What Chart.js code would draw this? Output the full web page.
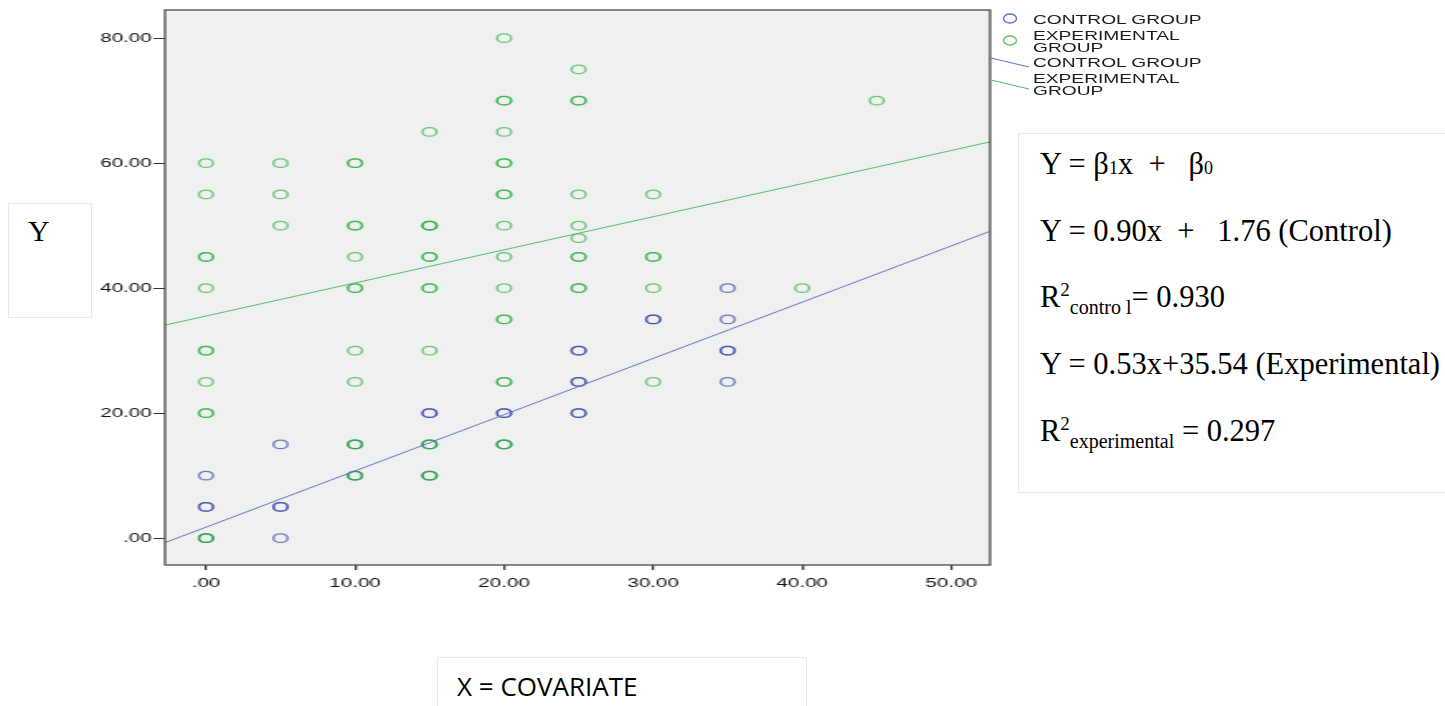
<!DOCTYPE html>
<html>
<head>
<meta charset="utf-8">
<script src="https://cdn.jsdelivr.net/npm/chart.js@4.4.1/dist/chart.umd.min.js"></script>
<style>
  body { margin: 0; width: 1445px; height: 706px; overflow: hidden; position: relative; background: #fff; }
  /* the original picture is stretched sideways, so the whole chart is too */
  #wrap { position: absolute; left: 0; top: 0; width: 606px; height: 600px; transform: scaleX(1.65); transform-origin: 0 0; }
  .box { position: absolute; border: 1px solid #e8e8e8; box-sizing: border-box; background: #fff; }
  .serif { font-family: "Liberation Serif", "Times New Roman", serif; color: #000; }
  #ybox { left: 8px; top: 203px; width: 84px; height: 115px; }
  #ybox span { position: absolute; left: 19px; top: 10px; font-size: 30px; }
  #xbox { left: 437px; top: 657px; width: 370px; height: 60px; }
  #xbox span { position: absolute; left: 19px; top: 10px; font-family: "Open Sans", sans-serif; font-size: 26px; color: #000; }
  #eq { left: 1018px; top: 133px; width: 440px; height: 360px; }
  #eq div { position: absolute; left: 21px; font-size: 30.5px; white-space: pre; line-height: 1; }
  .lo { font-size: 18px; }
  .sb { font-size: 20px; position: relative; top: 7px; }
  .sp { font-size: 19px; position: relative; top: -11px; }
  #legend { position: absolute; left: 990px; top: 0; width: 300px; height: 110px; }
  #legend .t { position: absolute; left: 43px; font-family: "Liberation Sans", Arial, sans-serif; font-size: 13.5px; line-height: 12px;
               color: #1a1a1a; transform: scaleX(1.42); transform-origin: 0 0; white-space: nowrap; }
</style>
</head>
<body>
<div id="wrap"><canvas id="chart" width="606" height="600"></canvas></div>

<div id="legend">
  <svg width="60" height="110" style="position:absolute;left:0;top:0">
    <ellipse cx="20" cy="18.5" rx="6.5" ry="4.5" fill="none" stroke="rgba(50,72,172,0.75)" stroke-width="1.4"/>
    <ellipse cx="20" cy="40.5" rx="6.5" ry="4.5" fill="none" stroke="rgba(40,175,60,0.75)" stroke-width="1.4"/>
    <line x1="1" y1="58" x2="39" y2="67" stroke="rgb(95,115,195)" stroke-width="1"/>
    <line x1="1" y1="80" x2="39" y2="89" stroke="rgb(80,190,100)" stroke-width="1"/>
  </svg>
  <div class="t" style="top:14px">CONTROL GROUP</div>
  <div class="t" style="top:30px">EXPERIMENTAL<br>GROUP</div>
  <div class="t" style="top:57px">CONTROL GROUP</div>
  <div class="t" style="top:73px">EXPERIMENTAL<br>GROUP</div>
</div>

<div class="box" id="ybox"><span class="serif">Y</span></div>
<div class="box" id="xbox"><span>X = COVARIATE</span></div>
<div class="box serif" id="eq">
  <div style="top:15px">Y = β<span class="lo">1</span>x  +   β<span class="lo">0</span></div>
  <div style="top:82px">Y = 0.90x  +   1.76 (Control)</div>
  <div style="top:148px">R<span class="sp">2</span><span class="sb">contro l</span>= 0.930</div>
  <div style="top:215px">Y = 0.53x+35.54 (Experimental)</div>
  <div style="top:282px">R<span class="sp">2</span><span class="sb">experimental</span> = 0.297</div>
</div>

<script>
const xTicks = [0, 10, 20, 30, 40, 50];
const yTicks = [0, 20, 40, 60, 80];

// control group observations (repeated pairs are overlapping points)
const controlX = [0, 0, 0, 0, 5, 5, 5, 5, 10, 10, 15, 15, 15, 15, 20, 20, 20,
                  25, 25, 25, 25, 25, 25, 30, 30, 35, 35, 35, 35, 35];
const controlY = [10, 5, 5, 0, 15, 5, 5, 0, 15, 10, 20, 20, 15, 10, 20, 20, 15,
                  30, 30, 25, 25, 20, 20, 35, 35, 40, 35, 30, 30, 25];

// experimental group observations
const expX = [0, 0, 0, 0, 0, 0, 0, 0, 0, 0, 0, 0,
              5, 5, 5,
              10, 10, 10, 10, 10, 10, 10, 10, 10, 10, 10, 10, 10,
              15, 15, 15, 15, 15, 15, 15, 15, 15, 15, 15, 15, 15,
              20, 20, 20, 20, 20, 20, 20, 20, 20, 20, 20, 20, 20, 20, 20, 20, 20,
              25, 25, 25, 25, 25, 25, 25, 25, 25, 25,
              30, 30, 30, 30, 30,
              40, 45];
const expY = [60, 55, 45, 45, 40, 30, 30, 25, 20, 20, 0, 0,
              60, 55, 50,
              60, 60, 50, 50, 45, 40, 40, 30, 25, 15, 15, 10, 10,
              65, 50, 50, 50, 45, 45, 40, 40, 30, 15, 15, 10, 10,
              80, 70, 70, 65, 60, 60, 55, 55, 50, 45, 40, 35, 35, 25, 25, 15, 15,
              75, 70, 70, 55, 50, 48, 45, 45, 40, 40,
              55, 45, 45, 40, 25,
              40, 70];

// fit lines, end points at the edges of the x axis
const fitX = [-2.75, 52.6];
const controlFitY = [-0.72, 49.1];
const expFitY = [34.08, 63.4];

const xMin = -2.75, xMax = 52.6, yMin = -4.3, yMax = 84.5;

const pairs = (xs, ys) => xs.map((x, i) => ({ x: x, y: ys[i] }));

const plotFrame = {
  id: 'plotFrame',
  beforeDraw(chart) {
    const a = chart.chartArea, c = chart.ctx;
    c.save();
    c.fillStyle = '#f0f0f0';
    c.fillRect(a.left, a.top, a.right - a.left, a.bottom - a.top);
    c.restore();
  },
  afterDraw(chart) {
    const a = chart.chartArea, c = chart.ctx;
    c.save();
    c.strokeStyle = '#555';
    c.lineWidth = 1.4;
    c.strokeRect(a.left, a.top, a.right - a.left, a.bottom - a.top);
    c.restore();
  }
};

new Chart(document.getElementById('chart'), {
  type: 'scatter',
  data: {
    datasets: [
      {
        label: 'CONTROL GROUP',
        data: pairs(fitX, controlFitY),
        showLine: true, pointRadius: 0,
        borderColor: 'rgb(95,115,195)', borderWidth: 1, order: 0
      },
      {
        label: 'EXPERIMENTAL GROUP',
        data: pairs(fitX, expFitY),
        showLine: true, pointRadius: 0,
        borderColor: 'rgb(80,190,100)', borderWidth: 1, order: 0
      },
      {
        label: 'EXPERIMENTAL GROUP',
        data: pairs(expX, expY),
        pointRadius: 4.3, borderWidth: 1.35,
        borderColor: 'rgba(40,175,60,0.68)', backgroundColor: 'rgba(0,0,0,0)',
        order: 1
      },
      {
        label: 'CONTROL GROUP',
        data: pairs(controlX, controlY),
        pointRadius: 4.3, borderWidth: 1.35,
        borderColor: 'rgba(45,65,170,0.68)', backgroundColor: 'rgba(0,0,0,0)',
        order: 2
      }
    ]
  },
  options: {
    responsive: false,
    animation: false,
    layout: { padding: { top: 10, right: 6, left: 0, bottom: 0 } },
    plugins: { legend: { display: false }, tooltip: { enabled: false } },
    scales: {
      x: {
        type: 'linear', min: xMin, max: xMax,
        afterBuildTicks: s => { s.ticks = xTicks.map(v => ({ value: v })); },
        afterFit: s => { s.height = 35; },
        grid: { drawOnChartArea: false, drawTicks: true, tickLength: 5, color: '#333', lineWidth: 1.3 },
        border: { display: false },
        ticks: {
          padding: 6, color: '#111', maxRotation: 0, autoSkip: false,
          font: { family: 'Liberation Sans', size: 12.5 },
          callback: v => v === 0 ? '.00' : v.toFixed(2)
        }
      },
      y: {
        type: 'linear', min: yMin, max: yMax,
        afterBuildTicks: s => { s.ticks = yTicks.map(v => ({ value: v })); },
        afterFit: s => { s.width = 100; },
        grid: { drawOnChartArea: false, drawTicks: true, tickLength: 7, color: '#333', lineWidth: 1 },
        border: { display: false },
        ticks: {
          padding: 1, color: '#111', autoSkip: false,
          font: { family: 'Liberation Sans', size: 12.5 },
          callback: v => v === 0 ? '.00' : v.toFixed(2)
        }
      }
    }
  },
  plugins: [plotFrame]
});
</script>
</body>
</html>
